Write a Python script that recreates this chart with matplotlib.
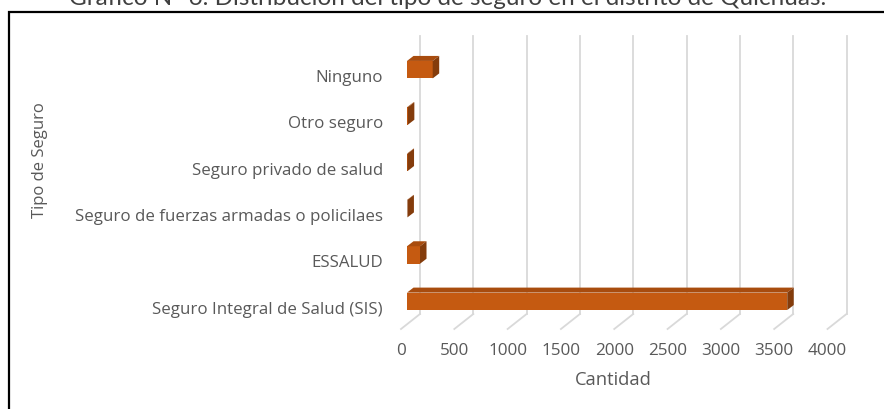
import matplotlib.pyplot as plt
from matplotlib.patches import Polygon, Rectangle
from matplotlib.transforms import ScaledTranslation

plt.rcParams['font.family'] = ['Open Sans', 'DejaVu Sans']

# datos
categorias = ['Seguro Integral de Salud (SIS)', 'ESSALUD',
              'Seguro de fuerzas armadas o policilaes', 'Seguro privado de salud',
              'Otro seguro', 'Ninguno']
cantidad = [3566, 122, 4, 5, 8, 241]
ticks_x = [0, 500, 1000, 1500, 2000, 2500, 3000, 3500, 4000]

col_frente = '#C55A11'
col_arriba = '#A84C0E'
col_lado = '#843C0C'
col_grid = '#D9D9D9'
col_texto = '#595959'

fig = plt.figure(figsize=(8.84, 4.10), dpi=100)
ax = fig.add_axes([401 / 884, 80 / 410, 426.5 / 884, 278 / 410])
ax.set_xlim(0, 4000)
ax.set_ylim(-0.5, 5.5)
ax.axis('off')


def desplazar(dx, dy):
    # desplazamiento en pixeles (dpi 100) para el efecto 3D
    return ax.transData + ScaledTranslation(dx / 100, dy / 100, fig.dpi_scale_trans)


fondo = desplazar(19, 15)
# lineas de la pared del fondo y del piso
for v in ticks_x:
    ax.plot([v, v], [-0.5, 5.5], color=col_grid, lw=1.3, transform=fondo,
            clip_on=False, zorder=0)
    x0, y0 = ax.transData.transform((v, -0.5))
    fig.add_artist(plt.Line2D([x0 / 884, (x0 + 19) / 884], [y0 / 410, (y0 + 15) / 410],
                              color=col_grid, lw=1.3, zorder=0.5))

# barras con efecto 3D
alto = 0.377
frente = desplazar(6, 4.5)
for i, v in enumerate(cantidad):
    y0, y1 = i - alto / 2, i + alto / 2
    (ax0, ay0), (ax1, ay1) = frente.transform([(0, y0), (v, y1)])
    dx, dy = 6.5, 5
    caras = [
        ([(ax0, ay1), (ax1, ay1), (ax1 + dx, ay1 + dy), (ax0 + dx, ay1 + dy)], col_arriba),
        ([(ax1, ay0), (ax1 + dx, ay0 + dy), (ax1 + dx, ay1 + dy), (ax1, ay1)], col_lado),
    ]
    for pts, c in caras:
        fig.add_artist(Polygon([(px / 884, py / 410) for px, py in pts], closed=True,
                               facecolor=c, edgecolor='none', transform=fig.transFigure))
    ax.add_patch(Rectangle((0, y0), v, alto, facecolor=col_frente, edgecolor='none',
                           transform=frente, clip_on=False, zorder=3))

# etiquetas de categoria
for i, c in enumerate(categorias):
    ax.text(0, i, c, transform=desplazar(-18, -3), ha='right', va='center',
            fontsize=12.2, color=col_texto)

# etiquetas del eje x
for v in ticks_x:
    ax.text(v, -0.5, str(v), transform=desplazar(0, -21), ha='center', va='center',
            fontsize=12.3, color=col_texto)

fig.text(613 / 884, 1 - 380 / 410, 'Cantidad', ha='center', va='center',
         fontsize=13.2, color=col_texto)
fig.text(40 / 884, 1 - 160 / 410, 'Tipo de Seguro', ha='center', va='center',
         rotation=90, fontsize=12, color=col_texto)

# titulo (cortado arriba, como en el original) y marco
fig.text(448 / 884, 1 - 5 / 410, 'Gráfico N° 6. Distribución del tipo de seguro en el distrito de Quichuas.',
         ha='center', va='baseline', fontsize=17.5, color='#404040', family=['Lato', 'DejaVu Sans'])
fig.add_artist(Rectangle((8.5 / 884, -0.1), 2, 1 - 12.5 / 410 + 0.1, transform=fig.transFigure,
                         fill=False, edgecolor='black', lw=1.6))

fig.savefig('out.png', dpi=100)
